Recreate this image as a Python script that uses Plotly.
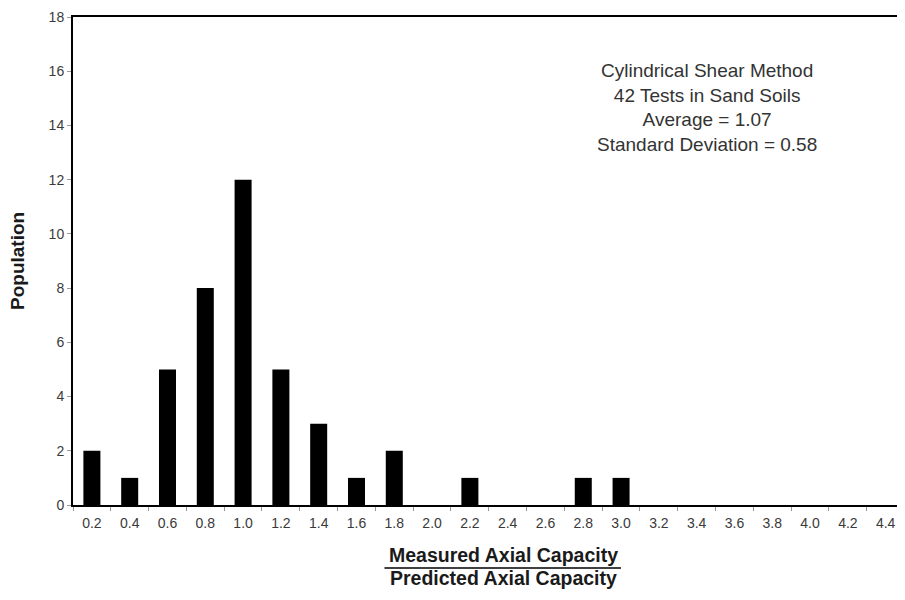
import plotly.graph_objects as go

categories = ["0.2", "0.4", "0.6", "0.8", "1.0", "1.2", "1.4", "1.6", "1.8", "2.0", "2.2",
              "2.4", "2.6", "2.8", "3.0", "3.2", "3.4", "3.6", "3.8", "4.0", "4.2", "4.4"]
population = [2, 1, 5, 8, 12, 5, 3, 1, 2, 0, 1, 0, 0, 1, 1, 0, 0, 0, 0, 0, 0, 0]
y_ticks = [0, 2, 4, 6, 8, 10, 12, 14, 16, 18]
info_lines = ["Cylindrical Shear Method", "42 Tests in Sand Soils",
              "Average = 1.07", "Standard Deviation = 0.58"]

FONT = "Liberation Sans, Arial, sans-serif"

fig = go.Figure(go.Bar(x=categories, y=population, width=0.45,
                       marker=dict(color="black", line=dict(width=0))))

# page body adds an 8px margin; keep the figure inside the window without scrollbars
fig.update_layout(
    width=889, height=584,
    margin=dict(l=65, r=0, t=9, b=87),
    paper_bgcolor="white", plot_bgcolor="white",
    showlegend=False,
    font=dict(family=FONT, size=14, color="#3a3a3a"),
)
fig.update_xaxes(
    type="category", range=[-0.5, 21.3],
    showline=True, linecolor="black", linewidth=2, mirror=True,
    ticks="outside", tickson="boundaries", ticklen=4, tickcolor="#999",
    ticklabelstandoff=4,
    showgrid=False, tickfont=dict(size=14, color="#3a3a3a"),
)
fig.update_yaxes(
    range=[0, 18], tickvals=y_ticks,
    showline=True, linecolor="black", linewidth=2,
    ticks="outside", ticklen=4, tickcolor="#999",
    showgrid=False, zeroline=False, tickfont=dict(size=14, color="#3a3a3a"),
)

# y-axis title
fig.add_annotation(xref="paper", yref="paper", x=-0.068, y=0.5, xanchor="center", yanchor="middle",
                   text="<b>Population</b>", textangle=-90, showarrow=False,
                   font=dict(family=FONT, size=19, color="#1a1a1a"))

fig.add_annotation(
    xref="paper", yref="paper", x=0.770, y=0.8145, xanchor="center", yanchor="middle",
    text="<br>".join(info_lines), showarrow=False, align="center",
    font=dict(family=FONT, size=19, color="#333"),
)
# fraction-style x-axis title
fig.add_annotation(xref="paper", yref="paper", x=0.522, y=-0.1025, xanchor="center", yanchor="middle",
                   text="<b>Measured Axial Capacity</b>", showarrow=False,
                   font=dict(family=FONT, size=19.5, color="#1a1a1a"))
fig.add_annotation(xref="paper", yref="paper", x=0.522, y=-0.1765, xanchor="center", yanchor="bottom",
                   text="<b>Predicted Axial Capacity</b>", showarrow=False,
                   font=dict(family=FONT, size=19.5, color="#1a1a1a"))
fig.add_shape(type="line", xref="paper", yref="paper", x0=0.378, x1=0.665, y0=-0.129, y1=-0.129,
              line=dict(color="black", width=1.5))

fig.write_html("out.html")
